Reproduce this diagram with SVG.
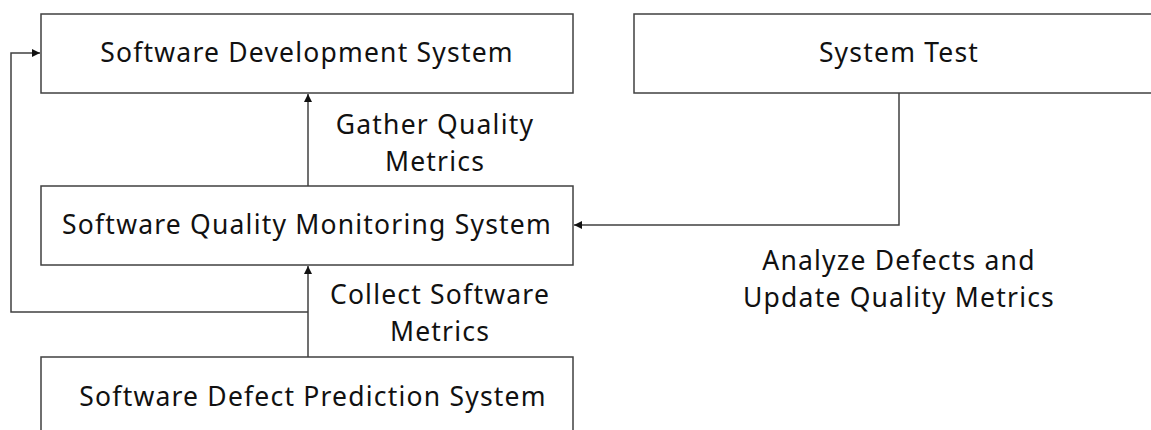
<svg xmlns="http://www.w3.org/2000/svg" width="1151" height="430" viewBox="0 0 1151 430">
<style>
.box{fill:#fff;stroke:#404040;stroke-width:1.5}
.t{font-family:"Noto Sans","Liberation Sans",sans-serif;font-size:26.5px;letter-spacing:1.2px;fill:#111;text-anchor:middle;dominant-baseline:central}
.c{fill:none;stroke:#404040;stroke-width:1.5}
</style>
<defs>
<marker id="ah" viewBox="0 0 10 10" refX="10" refY="5" markerWidth="8" markerHeight="8" markerUnits="userSpaceOnUse" orient="auto">
<path d="M0,0 L10,5 L0,10 z" fill="#111"/>
</marker>
</defs>
<rect width="1151" height="430" fill="#fff"/>
<g id="connectors">
<path class="c" d="M308,186 V94" marker-end="url(#ah)"/>
<path class="c" d="M308,357 V266" marker-end="url(#ah)"/>
<path class="c" d="M308,312 H11 V53 H40" marker-end="url(#ah)"/>
<path class="c" d="M899,93 V225 H574" marker-end="url(#ah)"/>
</g>
<g id="n-dev"><rect class="box" x="41" y="14" width="532" height="79"/><text class="t" x="307" y="52">Software Development System</text></g>
<g id="n-test"><rect class="box" x="634" y="14" width="530" height="79"/><text class="t" x="899" y="52">System Test</text></g>
<g id="n-monitor"><rect class="box" x="41" y="186" width="532" height="79"/><text class="t" x="307" y="224">Software Quality Monitoring System</text></g>
<g id="n-predict"><rect class="box" x="41" y="357" width="532" height="90"/><text class="t" x="313" y="396">Software Defect Prediction System</text></g>
<g id="labels">
<text class="t" x="435" y="124">Gather Quality</text>
<text class="t" x="435" y="160.5">Metrics</text>
<text class="t" x="440" y="294">Collect Software</text>
<text class="t" x="440" y="330.5">Metrics</text>
<text class="t" x="899" y="260">Analyze Defects and</text>
<text class="t" x="899" y="296.5">Update Quality Metrics</text>
</g>
</svg>
